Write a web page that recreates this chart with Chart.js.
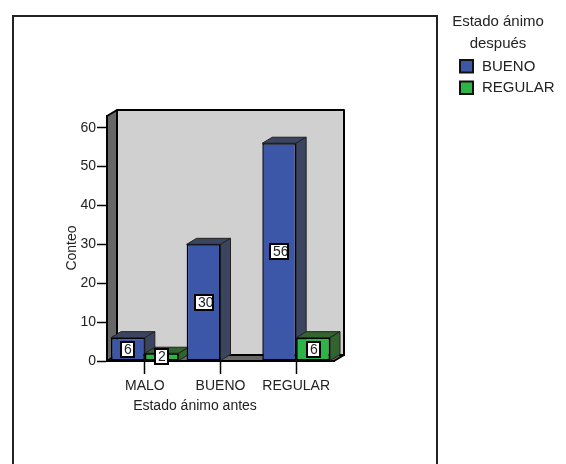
<!DOCTYPE html>
<html>
<head>
<meta charset="utf-8">
<title>Conteo por estado de ánimo</title>
<script src="https://cdn.jsdelivr.net/npm/chart.js@4"></script>
<style>
  body { margin: 0; background: #fff; }
  canvas { display: block; }
</style>
</head>
<body>
<canvas id="chart" width="566" height="464"></canvas>
<script>
const categories = ['MALO', 'BUENO', 'REGULAR'];
const buenoValues = [6, 30, 56];
const regularValues = [2, 0, 6];
const yTicks = [0, 10, 20, 30, 40, 50, 60];
const xTitle = 'Estado ánimo antes';
const yTitle = 'Conteo';
const legendTitle = ['Estado ánimo', 'después'];

const FAMILY = '"Liberation Sans", Arial, sans-serif';
const FONT = '14px ' + FAMILY;
const LEGEND_FONT = '15px ' + FAMILY;
const TEXT = '#222';
const DEPTH_X = 10;
const DEPTH_Y = 6;

function poly(ctx, pts, fill) {
  ctx.beginPath();
  pts.forEach((p, i) => i ? ctx.lineTo(p[0], p[1]) : ctx.moveTo(p[0], p[1]));
  ctx.closePath();
  ctx.fillStyle = fill;
  ctx.fill();
  ctx.stroke();
}

// Outer frame has no bottom edge, it runs off the page
function drawFrame(ctx) {
  ctx.save();
  ctx.strokeStyle = '#222';
  ctx.lineWidth = 2;
  ctx.beginPath();
  ctx.moveTo(13, 464);
  ctx.lineTo(13, 16);
  ctx.lineTo(437, 16);
  ctx.lineTo(437, 464);
  ctx.stroke();
  ctx.restore();
}

// Back wall, side wall and floor of the 3D box
function drawWalls(ctx, area) {
  const { left, right, top, bottom } = area;
  ctx.save();
  ctx.strokeStyle = '#000';
  ctx.lineWidth = 2;
  ctx.lineJoin = 'round';
  poly(ctx, [[left + DEPTH_X, top - DEPTH_Y], [right + DEPTH_X, top - DEPTH_Y],
    [right + DEPTH_X, bottom - DEPTH_Y], [left + DEPTH_X, bottom - DEPTH_Y]], '#d0d0d0');
  poly(ctx, [[left, top], [left + DEPTH_X, top - DEPTH_Y],
    [left + DEPTH_X, bottom - DEPTH_Y], [left, bottom]], '#666');
  poly(ctx, [[left, bottom], [left + DEPTH_X, bottom - DEPTH_Y],
    [right + DEPTH_X, bottom - DEPTH_Y], [right, bottom]], '#666');
  ctx.restore();
}

// Top and side faces of each bar, the fronts are the real Chart.js bars
function drawBarFaces(chart) {
  const ctx = chart.ctx;
  ctx.save();
  ctx.strokeStyle = '#222';
  ctx.lineWidth = 1;
  categories.forEach((c, i) => {
    chart.data.datasets.forEach((ds, d) => {
      if (!ds.data[i]) return;
      const bar = chart.getDatasetMeta(d).data[i];
      const l = bar.x - bar.width / 2;
      const r = bar.x + bar.width / 2;
      poly(ctx, [[l, bar.y], [l + DEPTH_X, bar.y - DEPTH_Y],
        [r + DEPTH_X, bar.y - DEPTH_Y], [r, bar.y]], ds.faceColor);
      poly(ctx, [[r, bar.y], [r + DEPTH_X, bar.y - DEPTH_Y],
        [r + DEPTH_X, bar.base - DEPTH_Y], [r, bar.base]], ds.faceColor);
    });
  });
  ctx.restore();
}

// White value boxes in the middle of each bar, long numbers get cut by the box
function drawValueBoxes(chart) {
  const ctx = chart.ctx;
  ctx.save();
  ctx.font = FONT;
  chart.data.datasets.forEach((ds, d) => {
    chart.getDatasetMeta(d).data.forEach((bar, i) => {
      const value = ds.data[i];
      if (!value) return;
      const w = String(value).length > 1 ? 18 : 13;
      const h = 15;
      const x = Math.round(bar.x - w / 2);
      const y = Math.round((bar.y + bar.base) / 2 - h / 2);
      ctx.fillStyle = '#fff';
      ctx.fillRect(x, y, w, h);
      ctx.save();
      ctx.beginPath();
      ctx.rect(x, y, w, h);
      ctx.clip();
      ctx.fillStyle = TEXT;
      ctx.textAlign = 'left';
      ctx.textBaseline = 'middle';
      ctx.fillText(String(value), x + 3, y + h / 2 + 0.5);
      ctx.restore();
      ctx.strokeStyle = '#000';
      ctx.lineWidth = 2;
      ctx.strokeRect(x, y, w, h);
    });
  });
  ctx.restore();
}

function drawAxisTitles(ctx) {
  ctx.save();
  ctx.font = FONT;
  ctx.fillStyle = TEXT;
  ctx.textAlign = 'center';
  ctx.textBaseline = 'middle';
  ctx.fillText(xTitle, 195, 406);
  ctx.translate(72, 248);
  ctx.rotate(-Math.PI / 2);
  ctx.fillText(yTitle, 0, 0);
  ctx.restore();
}

function drawLegend(chart) {
  const ctx = chart.ctx;
  ctx.save();
  ctx.font = LEGEND_FONT;
  ctx.fillStyle = TEXT;
  ctx.textBaseline = 'middle';
  ctx.textAlign = 'center';
  legendTitle.forEach((line, i) => ctx.fillText(line, 498, 22 + i * 22));
  ctx.textAlign = 'left';
  chart.data.datasets.forEach((ds, i) => {
    const y = 60 + i * 21.5;
    ctx.fillStyle = ds.backgroundColor;
    ctx.strokeStyle = '#111';
    ctx.lineWidth = 2;
    ctx.fillRect(460, y, 13, 12.5);
    ctx.strokeRect(460, y, 13, 12.5);
    ctx.fillStyle = TEXT;
    ctx.fillText(ds.label, 482, y + 6.5);
  });
  ctx.restore();
}

const boxPlugin = {
  id: 'box3d',
  beforeDraw(chart) {
    drawFrame(chart.ctx);
  },
  beforeDatasetsDraw(chart) {
    drawWalls(chart.ctx, chart.chartArea);
    drawBarFaces(chart);
  },
  afterDatasetsDraw(chart) {
    drawValueBoxes(chart);
    drawAxisTitles(chart.ctx);
    drawLegend(chart);
  }
};

new Chart(document.getElementById('chart'), {
  type: 'bar',
  data: {
    labels: categories,
    datasets: [
      { label: 'BUENO', data: buenoValues, backgroundColor: '#3d57a8', faceColor: '#3c4560' },
      { label: 'REGULAR', data: regularValues, backgroundColor: '#2cb544', faceColor: '#32642f' }
    ].map(ds => ({
      ...ds,
      borderColor: '#000',
      borderWidth: 1.5,
      borderSkipped: false,
      categoryPercentage: 0.895,
      barPercentage: 1
    }))
  },
  options: {
    responsive: false,
    animation: false,
    layout: { padding: { top: 116, right: 232 } },
    plugins: {
      legend: { display: false },
      title: { display: false },
      tooltip: { enabled: false }
    },
    scales: {
      x: {
        grid: { offset: false, drawOnChartArea: false, tickLength: 13, tickColor: '#000', tickWidth: 1.5 },
        border: { color: '#000', width: 2 },
        ticks: {
          color: TEXT,
          padding: 4,
          maxRotation: 0,
          font: { family: FAMILY, size: 14 }
        },
        afterFit(scale) { scale.height = 103; }
      },
      y: {
        min: 0,
        max: 63,
        afterBuildTicks(scale) { scale.ticks = yTicks.map(value => ({ value })); },
        grid: { drawOnChartArea: false, tickLength: 10, tickColor: '#000', tickWidth: 1.5 },
        border: { color: '#000', width: 2 },
        ticks: {
          color: TEXT,
          padding: 1,
          font: { family: FAMILY, size: 14 }
        },
        afterFit(scale) { scale.width = 107; }
      }
    }
  },
  plugins: [boxPlugin]
});
</script>
</body>
</html>
